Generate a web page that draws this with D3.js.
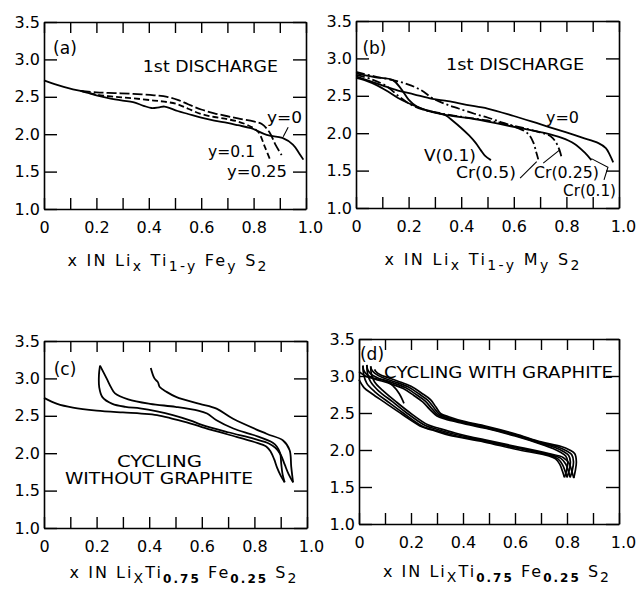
<!DOCTYPE html>
<html lang="en">
<head>
<meta charset="utf-8">
<script src="https://d3js.org/d3.v7.min.js"></script>
<style>
    body { margin: 0; background: #fff; }
    svg text { font-family: "DejaVu Sans", sans-serif; fill: #000; }
</style>
</head>
<body>
<script type="text/javascript">

    // ticks
    var xTickVals = [0, 0.1, 0.2, 0.3, 0.4, 0.5, 0.6, 0.7, 0.8, 0.9, 1.0];
    var xTickLabels = ["0", "", "0.2", "", "0.4", "", "0.6", "", "0.8", "", "1.0"];
    var yTickVals = [1.0, 1.5, 2.0, 2.5, 3.0, 3.5];

    // (a) 1st discharge, Li_x Ti(1-y) Fe(y) S2
    var aY0 = [[0,2.72],[0.05,2.66],[0.10,2.61],[0.15,2.57],[0.20,2.52],[0.25,2.48],[0.30,2.45],[0.34,2.43],
        [0.38,2.38],[0.41,2.35],[0.44,2.36],[0.46,2.37],[0.51,2.31],[0.55,2.27],[0.60,2.22],[0.65,2.18],
        [0.70,2.15],[0.74,2.12],[0.79,2.08],[0.85,1.99],[0.91,1.95],[0.95,1.86],[0.975,1.74],[0.99,1.66]];
    var aY01 = [[0.14,2.58],[0.20,2.53],[0.27,2.50],[0.34,2.48],[0.42,2.45],[0.47,2.43],[0.51,2.40],
        [0.55,2.34],[0.60,2.27],[0.65,2.23],[0.70,2.20],[0.74,2.17],[0.79,2.10],[0.818,2.03],[0.843,1.83],[0.863,1.66]];
    var aY025 = [[0.14,2.58],[0.20,2.56],[0.27,2.55],[0.34,2.54],[0.42,2.52],[0.47,2.50],[0.51,2.46],
        [0.55,2.40],[0.60,2.33],[0.65,2.28],[0.70,2.24],[0.74,2.21],[0.80,2.17],[0.83,2.14],[0.86,2.03],
        [0.885,1.85],[0.907,1.72]];

    // (b) 1st discharge, Li_x Ti(1-y) M(y) S2
    var bY0 = [[0,2.76],[0.05,2.70],[0.10,2.64],[0.16,2.57],[0.22,2.52],[0.29,2.46],[0.35,2.43],[0.42,2.38],
        [0.50,2.33],[0.60,2.23],[0.70,2.12],[0.80,2.01],[0.86,1.94],[0.92,1.87],[0.95,1.80],[0.965,1.71],[0.978,1.61]];
    var bV01 = [[0,2.74],[0.04,2.70],[0.08,2.64],[0.12,2.56],[0.16,2.47],[0.20,2.40],[0.25,2.33],[0.30,2.28],
        [0.34,2.24],[0.37,2.16],[0.40,2.07],[0.43,1.97],[0.455,1.87],[0.475,1.77],[0.49,1.70],[0.513,1.64]];
    var bCr05 = [[0,2.82],[0.07,2.76],[0.14,2.71],[0.20,2.65],[0.25,2.57],[0.29,2.47],[0.34,2.39],[0.39,2.33],
        [0.45,2.26],[0.50,2.21],[0.55,2.15],[0.60,2.09],[0.64,2.03],[0.66,1.97],[0.675,1.87],[0.685,1.75],[0.693,1.65]];
    var bCr025 = [[0,2.78],[0.06,2.72],[0.12,2.62],[0.16,2.50],[0.20,2.40],[0.25,2.32],[0.30,2.28],[0.40,2.22],
        [0.50,2.17],[0.60,2.10],[0.70,2.01],[0.74,1.96],[0.76,1.88],[0.775,1.76],[0.782,1.67]];
    var bCr01 = [[0,2.80],[0.07,2.75],[0.14,2.71],[0.17,2.60],[0.20,2.45],[0.23,2.36],[0.28,2.29],[0.35,2.24],
        [0.45,2.19],[0.55,2.12],[0.65,2.05],[0.72,2.00],[0.78,1.94],[0.83,1.86],[0.87,1.74],[0.895,1.64]];

    // (c) cycling without graphite
    var cD1 = [[0,2.74],[0.05,2.66],[0.11,2.61],[0.20,2.57],[0.30,2.545],[0.37,2.53],[0.43,2.51],[0.49,2.46],
        [0.555,2.40],[0.60,2.35],[0.70,2.25],[0.80,2.15],[0.845,2.09],[0.862,2.02],[0.875,1.92],[0.887,1.80],
        [0.90,1.70],[0.915,1.61]];
    var cC1 = [[0.915,1.61],[0.907,1.72],[0.902,1.86],[0.898,2.00],[0.885,2.09],[0.87,2.14],[0.80,2.24],
        [0.72,2.33],[0.656,2.44],[0.62,2.53],[0.586,2.57],[0.50,2.62],[0.403,2.66],[0.32,2.72],[0.27,2.80],
        [0.255,2.88],[0.238,3.00],[0.213,3.17]];
    var cD2 = [[0.213,3.17],[0.209,3.05],[0.21,2.88],[0.222,2.75],[0.26,2.66],[0.31,2.62],[0.365,2.60],
        [0.43,2.56],[0.49,2.51],[0.555,2.44],[0.60,2.38],[0.70,2.28],[0.80,2.19],[0.855,2.13],[0.88,2.07],
        [0.90,1.98],[0.915,1.85],[0.93,1.72],[0.947,1.61]];
    var cC2 = [[0.947,1.61],[0.94,1.82],[0.934,2.04],[0.909,2.17],[0.846,2.26],[0.719,2.46],[0.656,2.595],
        [0.592,2.66],[0.504,2.75],[0.466,2.82],[0.44,2.885],[0.433,2.95],[0.42,3.00],[0.406,3.14]];

    // (d) cycling with graphite
    var dD1 = [[0,2.95],[0.02,2.84],[0.05,2.76],[0.10,2.64],[0.167,2.48],[0.244,2.31],[0.282,2.27],[0.346,2.20],
        [0.48,2.11],[0.603,2.01],[0.73,1.92],[0.756,1.88],[0.772,1.81],[0.782,1.72],[0.79,1.63]];
    var dC1 = [[0.79,1.63],[0.798,1.72],[0.803,1.84],[0.795,1.92],[0.775,1.97],[0.746,2.02],[0.70,2.08],
        [0.60,2.19],[0.49,2.29],[0.40,2.36],[0.33,2.42],[0.30,2.46],[0.272,2.55],[0.245,2.65],[0.21,2.74],
        [0.17,2.83],[0.11,2.91],[0.06,2.96],[0.03,3.02],[0.018,3.08],[0.015,3.14]];
    var dD2 = [[0.015,3.14],[0.018,3.02],[0.03,2.90],[0.06,2.79],[0.12,2.63],[0.17,2.50],[0.25,2.31],[0.29,2.27],
        [0.35,2.21],[0.48,2.12],[0.60,2.03],[0.73,1.93],[0.765,1.88],[0.783,1.80],[0.793,1.71],[0.80,1.63]];
    var dC2 = [[0.80,1.63],[0.808,1.72],[0.813,1.84],[0.806,1.93],[0.786,1.98],[0.756,2.03],[0.70,2.09],
        [0.60,2.20],[0.49,2.30],[0.40,2.37],[0.335,2.43],[0.305,2.47],[0.28,2.56],[0.255,2.66],[0.22,2.75],
        [0.18,2.84],[0.12,2.92],[0.075,2.97],[0.045,3.03],[0.033,3.09],[0.03,3.15]];
    var dD3 = [[0.03,3.15],[0.033,3.03],[0.045,2.92],[0.075,2.80],[0.13,2.65],[0.18,2.51],[0.255,2.33],[0.30,2.28],
        [0.36,2.22],[0.48,2.13],[0.60,2.04],[0.73,1.94],[0.775,1.89],[0.795,1.81],[0.805,1.72],[0.812,1.63]];
    var dC3 = [[0.812,1.63],[0.82,1.72],[0.825,1.84],[0.818,1.94],[0.797,1.99],[0.765,2.04],[0.70,2.10],
        [0.60,2.21],[0.49,2.31],[0.40,2.38],[0.34,2.44],[0.31,2.48],[0.288,2.57],[0.265,2.67],[0.23,2.76],
        [0.19,2.85],[0.13,2.93],[0.09,2.98],[0.06,3.04],[0.048,3.09],[0.045,3.13]];
    var dD4 = [[0.045,3.13],[0.048,3.02],[0.06,2.92],[0.09,2.81],[0.14,2.66],[0.19,2.52],[0.265,2.34],[0.31,2.29],
        [0.37,2.23],[0.48,2.14],[0.60,2.05],[0.73,1.95],[0.785,1.90],[0.808,1.82],[0.818,1.72],[0.826,1.62]];
    var dC4 = [[0.826,1.62],[0.832,1.72],[0.836,1.84],[0.83,1.95],[0.81,2.00],[0.775,2.05],[0.70,2.11],
        [0.60,2.22],[0.49,2.32],[0.40,2.39],[0.345,2.45],[0.315,2.49],[0.296,2.58],[0.275,2.68],[0.24,2.77],
        [0.20,2.86],[0.15,2.93],[0.11,2.98],[0.08,3.02],[0.065,3.06],[0.06,3.09]];
    var dPart = [[0,3.06],[0.03,2.99],[0.07,2.96],[0.10,2.94],[0.13,2.87],[0.155,2.76],[0.173,2.63]];

    var svg = d3.select("body").append("svg")
        .attr("width", 636)
        .attr("height", 589);

    var panels = {
        a: {left: 44, top: 22, w: 262, h: 187},
        b: {left: 356, top: 21, w: 263, h: 187},
        c: {left: 44, top: 341, w: 263, h: 187},
        d: {left: 359, top: 339, w: 260, h: 185}
    };

    var curves = {
        a: [{d: aY0}, {d: aY01, dash: "6,3"}, {d: aY025, dash: "10,3"}],
        b: [{d: bY0}, {d: bV01}, {d: bCr05, dash: "9,3,2,3"}, {d: bCr025, dash: "9,3,2,3"}, {d: bCr01}],
        c: [{d: cD1}, {d: cC1}, {d: cD2}, {d: cC2}],
        d: [{d: dD1}, {d: dC1}, {d: dD2}, {d: dC2}, {d: dD3}, {d: dC3}, {d: dD4}, {d: dC4}, {d: dPart}]
    };

    // labels in data coords
    var labels = {
        a: [["(a)", 0.08, 3.16, 17, null], ["1st DISCHARGE", 0.635, 2.91, 16, 135],
            ["y=0", 0.918, 2.223, 16, 35], ["y=0.1", 0.716, 1.77, 16, 47], ["y=0.25", 0.813, 1.50, 16, 60]],
        b: [["(b)", 0.07, 3.146, 17, null], ["1st DISCHARGE", 0.605, 2.925, 16, 138],
            ["y=0", 0.785, 2.217, 16, 33], ["V(0.1)", 0.357, 1.708, 16, 52],
            ["Cr(0.5)", 0.494, 1.475, 16, 60], ["Cr(0.25)", 0.80, 1.475, 16, 65], ["Cr(0.1)", 0.888, 1.24, 16, 53]],
        c: [["(c)", 0.08, 3.13, 17, null], ["CYCLING", 0.439, 1.895, 16, 85],
            ["WITHOUT GRAPHITE", 0.437, 1.66, 16, 188]],
        d: [["(d)", 0.05, 3.30, 17, null], ["CYCLING WITH GRAPHITE", 0.537, 3.05, 16, 229]]
    };

    var leaders = {
        a: [[[0.932, 2.092], [0.913, 1.967]]],
        b: [[[0.624, 1.40], [0.687, 1.62]], [[0.712, 1.60], [0.776, 1.78]],
            [[0.895, 1.66], [0.958, 1.545], [0.943, 1.377]]],
        c: [],
        d: []
    };

    Object.keys(panels).forEach(function(k) {
        var p = panels[k];
        var g = svg.append("g").attr("transform", "translate(" + p.left + "," + p.top + ")");
        var x = d3.scaleLinear().domain([0, 1]).range([0, p.w]);
        var y = d3.scaleLinear().domain([1, 3.5]).range([p.h, 0]);

        var bottom = g.append("g").attr("transform", "translate(0," + p.h + ")")
            .call(d3.axisBottom(x).tickValues(xTickVals)
                .tickFormat(function(d, i) { return xTickLabels[i]; })
                .tickSizeInner(-11).tickSizeOuter(0).tickPadding(13));
        bottom.selectAll("text").filter(function(d) { return d === 1; }).attr("dx", 4);
        g.append("g")
            .call(d3.axisTop(x).tickValues(xTickVals).tickFormat("")
                .tickSizeInner(-11).tickSizeOuter(0));
        g.append("g")
            .call(d3.axisLeft(y).tickValues(yTickVals).tickFormat(d3.format(".1f"))
                .tickSizeInner(-13).tickSizeOuter(0).tickPadding(4));
        g.append("g").attr("transform", "translate(" + p.w + ",0)")
            .call(d3.axisRight(y).tickValues(yTickVals).tickFormat("")
                .tickSizeInner(-13).tickSizeOuter(0));

        g.selectAll(".domain").attr("stroke", "#000").attr("stroke-width", 1.6);
        g.selectAll(".tick line").attr("stroke", "#000").attr("stroke-width", 1.4);
        g.selectAll(".tick text").style("font-size", "16px").attr("fill", "#000");

        var line = d3.line()
            .x(function(d) { return x(d[0]); })
            .y(function(d) { return y(d[1]); })
            .curve(d3.curveCatmullRom.alpha(0.5));

        curves[k].forEach(function(c) {
            g.append("path")
                .datum(c.d)
                .attr("d", line)
                .attr("fill", "none")
                .attr("stroke", "#000")
                .attr("stroke-width", k === "d" ? 1.7 : 1.8)
                .attr("stroke-dasharray", c.dash || null)
                .attr("stroke-linejoin", "round");
        });

        leaders[k].forEach(function(l) {
            g.append("path")
                .datum(l)
                .attr("d", d3.line().x(function(d) { return x(d[0]); }).y(function(d) { return y(d[1]); }))
                .attr("fill", "none")
                .attr("stroke", "#000")
                .attr("stroke-width", 1.1);
        });

        labels[k].forEach(function(t) {
            var txt = g.append("text")
                .attr("x", x(t[1]))
                .attr("y", y(t[2]))
                .attr("dy", "0.36em")
                .attr("text-anchor", "middle")
                .style("font-size", t[3] + "px")
                .text(t[0]);
            if (t[4]) txt.attr("textLength", t[4]).attr("lengthAdjust", "spacingAndGlyphs");
        });
    });

    // axis titles with subscripts
    var titles = [
        {x: 167, y: 266, len: 199, parts: [["x IN Li"], ["x", 1], [" Ti"], ["1-y", 1], [" Fe"], ["y", 1], [" S"], ["2", 1]]},
        {x: 482, y: 265, len: 195, parts: [["x IN Li"], ["x", 1], [" Ti"], ["1-y", 1], [" M"], ["y", 1], [" S"], ["2", 1]]},
        {x: 183, y: 578, len: 227, parts: [["x IN Li"], ["X", 1], ["Ti"], ["0.75", 2], [" Fe"], ["0.25", 2], [" S"], ["2", 1]]},
        {x: 496, y: 577, len: 226, parts: [["x IN Li"], ["X", 1], ["Ti"], ["0.75", 2], [" Fe"], ["0.25", 2], [" S"], ["2", 1]]}
    ];

    titles.forEach(function(t) {
        var txt = svg.append("text")
            .attr("x", t.x)
            .attr("y", t.y)
            .attr("text-anchor", "middle")
            .attr("textLength", t.len)
            .attr("lengthAdjust", "spacing")
            .style("font-size", "16px")
            .attr("xml:space", "preserve");
        var shifted = false;
        t.parts.forEach(function(p) {
            var s = txt.append("tspan").text(p[0]);
            if (p[1]) {
                s.style("font-size", p[1] === 2 ? "12px" : "14px");
                if (p[1] === 2) s.style("font-weight", "bold");
                if (!shifted) { s.attr("dy", 5); shifted = true; }
            } else if (shifted) {
                s.attr("dy", -5); shifted = false;
            }
        });
    });

</script>
</body>
</html>
